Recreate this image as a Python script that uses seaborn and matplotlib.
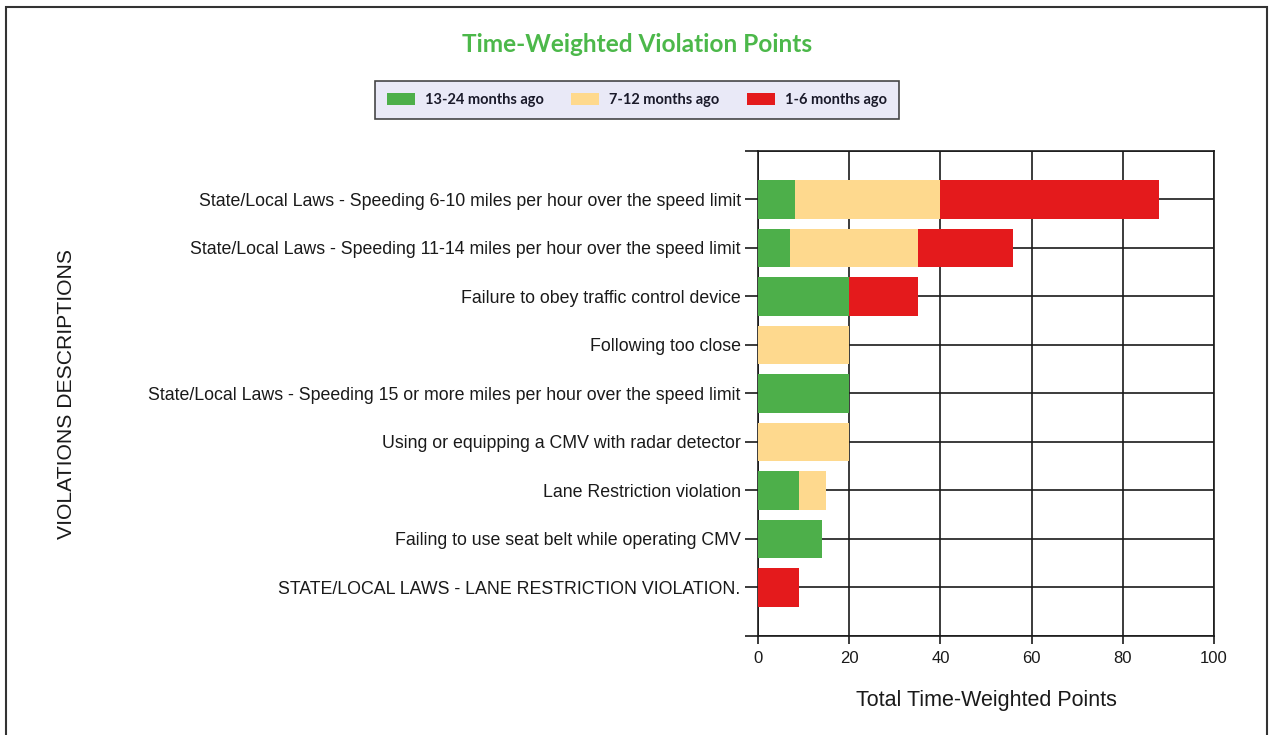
import numpy as np
import pandas as pd
import seaborn as sns
import matplotlib.pyplot as plt
from matplotlib.patches import Rectangle, Patch

# Violation categories (top to bottom)
violations = [
    "State/Local Laws - Speeding 6-10 miles per hour over the speed limit",
    "State/Local Laws - Speeding 11-14 miles per hour over the speed limit",
    "Failure to obey traffic control device",
    "Following too close",
    "State/Local Laws - Speeding 15 or more miles per hour over the speed limit",
    "Using or equipping a CMV with radar detector",
    "Lane Restriction violation",
    "Failing to use seat belt while operating CMV",
    "STATE/LOCAL LAWS - LANE RESTRICTION VIOLATION.",
]
# Points per time window
pts_13_24 = [8, 7, 20, 0, 20, 0, 9, 14, 0]
pts_7_12 = [32, 28, 0, 20, 0, 20, 6, 0, 0]
pts_1_6 = [48, 21, 15, 0, 0, 0, 0, 0, 9]

series_names = ["13-24 months ago", "7-12 months ago", "1-6 months ago"]
palette = {
    "13-24 months ago": "#4daf4a",
    "7-12 months ago": "#fed98e",
    "1-6 months ago": "#e41a1c",
}

df = pd.DataFrame({
    "violation": violations,
    "green": pts_13_24,
    "yellow": pts_7_12,
    "red": pts_1_6,
})
# cumulative ends for stacking
df["end_green"] = df["green"]
df["end_yellow"] = df["green"] + df["yellow"]
df["end_red"] = df["green"] + df["yellow"] + df["red"]

sns.set_theme(style="white")
plt.rcParams["font.family"] = ["Liberation Sans", "DejaVu Sans"]

fig = plt.figure(figsize=(12.74, 7.35), dpi=100)
ax = fig.add_axes([0.595, 0.1347, 0.358, 0.66])

# Draw from the longest cumulative bar to the shortest
for col, name in [("end_red", "1-6 months ago"),
                  ("end_yellow", "7-12 months ago"),
                  ("end_green", "13-24 months ago")]:
    sns.barplot(data=df, x=col, y="violation", color=palette[name],
                orient="h", width=0.8, saturation=1, linewidth=0, ax=ax, zorder=3)

# Axis limits and ticks
ax.set_xlim(0, 100)
ax.set_ylim(9, -1)
ax.set_xticks(np.arange(0, 101, 20))
ax.set_yticks(np.arange(-1, 10))
ax.set_yticklabels([""] + violations + [""])

ax.grid(True, color="#1a1a1a", linewidth=1.2, zorder=0)
ax.set_axisbelow(True)
for s in ax.spines.values():
    s.set_color("#1a1a1a")
    s.set_linewidth(1.2)

ax.tick_params(axis="y", which="both", left=True, length=9.5, width=1.2,
               color="#1a1a1a", labelsize=12.8, labelcolor="#1a1a1a", pad=3)
ax.tick_params(axis="x", which="both", bottom=True, length=6, width=1.2,
               color="#1a1a1a", labelsize=12, labelcolor="#1a1a1a", pad=5)

ax.set_xlabel("Total Time-Weighted Points", fontsize=15.5, color="#1a1a1a", labelpad=17)
ax.set_ylabel("")
fig.text(0.052, 0.464, "VIOLATIONS DESCRIPTIONS", rotation=90, fontsize=15.2,
         color="#1a1a1a", ha="center", va="center")

# Title
fig.text(0.5, 0.94, "Time-Weighted Violation Points", ha="center", va="center",
         fontsize=17.6, fontweight="bold", color="#4cb84a", family="Lato")

# Legend
handles = [Patch(facecolor=palette[n], edgecolor="none", label=n) for n in series_names]
leg = fig.legend(handles=handles, loc="center", bbox_to_anchor=(0.5, 0.864), ncol=3,
                 frameon=True, fancybox=False, handlelength=1.9,
                 handleheight=0.95, handletextpad=0.7, columnspacing=1.9, borderpad=0.8,
                 prop={"family": "Lato", "weight": "bold", "size": 10.5})
leg.get_frame().set_facecolor("#e4e4f6")
leg.get_frame().set_edgecolor("#1a1a1a")
leg.get_frame().set_linewidth(1.2)
for t in leg.get_texts():
    t.set_color("#1a1a2a")

# Outer frame of the picture
fig.patches.append(Rectangle((0.0047, -0.02), 0.9898, 1.0105, transform=fig.transFigure,
                             fill=False, edgecolor="#333333", linewidth=1.5))

fig.savefig("out.png", dpi=100)
